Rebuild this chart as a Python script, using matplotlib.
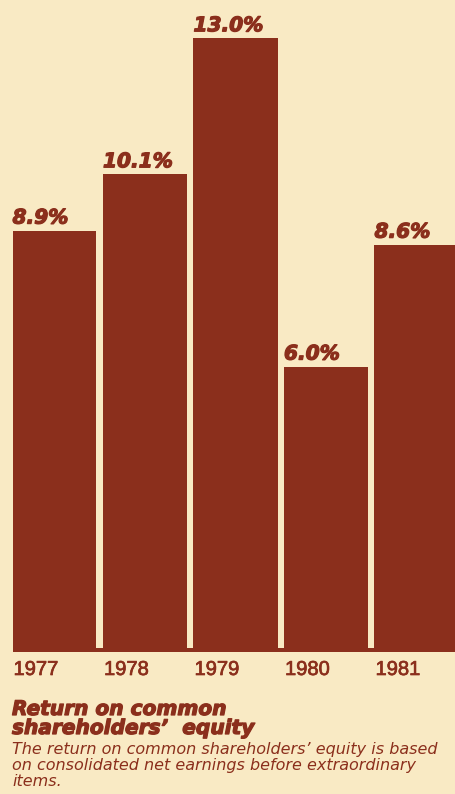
import matplotlib.pyplot as plt
import matplotlib.patheffects as pe
from matplotlib.patches import Rectangle

years = ['1977', '1978', '1979', '1980', '1981']
returns = [8.9, 10.1, 13.0, 6.0, 8.6]

bg = '#f9eac4'
brown = '#8b2f1c'

fig = plt.figure(figsize=(4.56, 7.94), dpi=100, facecolor=bg)
# axes: zero line at y=648px, strip below down to 652px
ax = fig.add_axes([0, 142 / 794, 1, 652 / 794])
ax.set_facecolor(bg)
px = 46.9  # pixels per percentage point
ax.set_ylim(-4 / px, 648 / px)
ax.set_xlim(-54.5 / 90.5, (456 - 54.5) / 90.5)
ax.axis('off')

w = 84 / 90.5
x = range(len(years))
ax.bar(x, returns, width=w, color=brown, linewidth=0)

# baseline strip under the bars
ax.add_patch(Rectangle((-w / 2, -4 / px), 10, 4 / px, color=brown, linewidth=0))

heavy = [pe.withStroke(linewidth=0.9, foreground=brown)]
medium = [pe.withStroke(linewidth=0.5, foreground=brown)]

for i, (yr, v) in enumerate(zip(years, returns)):
    ax.text(i - w / 2, v + 7 / px, f'{v:.1f}%', color=brown, fontsize=14.5,
            fontweight='bold', style='italic', family='DejaVu Sans',
            ha='left', va='baseline', path_effects=heavy)
    ax.text(i - w / 2 + 1 / 90.5, -27 / px, yr, color=brown, fontsize=14.5,
            family='Liberation Sans', ha='left', va='baseline',
            clip_on=False, path_effects=medium)

fig.text(12 / 456, 1 - 715 / 794, 'Return on common', color=brown,
         fontsize=14.5, fontweight='bold', style='italic', family='DejaVu Sans',
         va='baseline', path_effects=heavy)
fig.text(12 / 456, 1 - 734 / 794, 'shareholders\u2019  equity', color=brown,
         fontsize=14.5, fontweight='bold', style='italic', family='DejaVu Sans',
         va='baseline', path_effects=heavy)
sub = ['The return on common shareholders\u2019 equity is based',
       'on consolidated net earnings before extraordinary',
       'items.']
for k, line in enumerate(sub):
    fig.text(12 / 456, 1 - (754 + 16 * k) / 794, line, color=brown,
             fontsize=11.5, style='italic', family='DejaVu Sans', va='baseline')

fig.savefig('out.png', dpi=100, facecolor=bg)
